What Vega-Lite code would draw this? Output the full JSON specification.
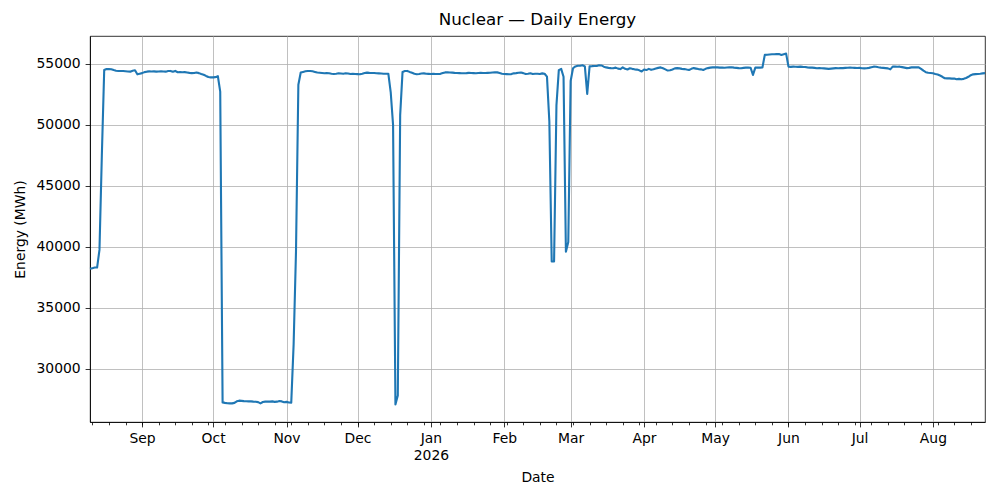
{
  "$schema": "https://vega.github.io/schema/vega-lite/v6.json",
  "width": 895,
  "height": 386,
  "autosize": {"type": "none"},
  "padding": {"left": 90, "top": 36, "right": 15, "bottom": 78},
  "background": "white",
  "title": {
    "text": "Nuclear — Daily Energy",
    "fontSize": 16.7,
    "fontWeight": "normal",
    "color": "black",
    "anchor": "middle",
    "offset": 7
  },
  "data": {
    "values": [
      {"date": "2025-08-10", "energy": 38200}, {"date": "2025-08-11", "energy": 38250}, {"date": "2025-08-12", "energy": 38300},
      {"date": "2025-08-13", "energy": 38300}, {"date": "2025-08-14", "energy": 39750}, {"date": "2025-08-15", "energy": 47500},
      {"date": "2025-08-16", "energy": 54510}, {"date": "2025-08-17", "energy": 54590}, {"date": "2025-08-18", "energy": 54580},
      {"date": "2025-08-19", "energy": 54570}, {"date": "2025-08-20", "energy": 54500}, {"date": "2025-08-21", "energy": 54450},
      {"date": "2025-08-22", "energy": 54430}, {"date": "2025-08-23", "energy": 54430}, {"date": "2025-08-24", "energy": 54420},
      {"date": "2025-08-25", "energy": 54400}, {"date": "2025-08-26", "energy": 54380}, {"date": "2025-08-27", "energy": 54370},
      {"date": "2025-08-28", "energy": 54450}, {"date": "2025-08-29", "energy": 54480}, {"date": "2025-08-30", "energy": 54150},
      {"date": "2025-08-31", "energy": 54200},
      {"date": "2025-09-01", "energy": 54250}, {"date": "2025-09-02", "energy": 54330}, {"date": "2025-09-03", "energy": 54370},
      {"date": "2025-09-04", "energy": 54390}, {"date": "2025-09-05", "energy": 54380}, {"date": "2025-09-06", "energy": 54390},
      {"date": "2025-09-07", "energy": 54370}, {"date": "2025-09-08", "energy": 54380}, {"date": "2025-09-09", "energy": 54400},
      {"date": "2025-09-10", "energy": 54380}, {"date": "2025-09-11", "energy": 54370}, {"date": "2025-09-12", "energy": 54420},
      {"date": "2025-09-13", "energy": 54430}, {"date": "2025-09-14", "energy": 54360}, {"date": "2025-09-15", "energy": 54430},
      {"date": "2025-09-16", "energy": 54320}, {"date": "2025-09-17", "energy": 54330}, {"date": "2025-09-18", "energy": 54320},
      {"date": "2025-09-19", "energy": 54330}, {"date": "2025-09-20", "energy": 54300}, {"date": "2025-09-21", "energy": 54270},
      {"date": "2025-09-22", "energy": 54250}, {"date": "2025-09-23", "energy": 54260}, {"date": "2025-09-24", "energy": 54300},
      {"date": "2025-09-25", "energy": 54250}, {"date": "2025-09-26", "energy": 54180}, {"date": "2025-09-27", "energy": 54120},
      {"date": "2025-09-28", "energy": 54020}, {"date": "2025-09-29", "energy": 53930}, {"date": "2025-09-30", "energy": 53900},
      {"date": "2025-10-01", "energy": 53900}, {"date": "2025-10-02", "energy": 53920}, {"date": "2025-10-03", "energy": 54000},
      {"date": "2025-10-04", "energy": 52730}, {"date": "2025-10-05", "energy": 27240}, {"date": "2025-10-06", "energy": 27200},
      {"date": "2025-10-07", "energy": 27170}, {"date": "2025-10-08", "energy": 27160}, {"date": "2025-10-09", "energy": 27160},
      {"date": "2025-10-10", "energy": 27200}, {"date": "2025-10-11", "energy": 27330}, {"date": "2025-10-12", "energy": 27380},
      {"date": "2025-10-13", "energy": 27360}, {"date": "2025-10-14", "energy": 27340}, {"date": "2025-10-15", "energy": 27330},
      {"date": "2025-10-16", "energy": 27320}, {"date": "2025-10-17", "energy": 27320}, {"date": "2025-10-18", "energy": 27300},
      {"date": "2025-10-19", "energy": 27290}, {"date": "2025-10-20", "energy": 27260}, {"date": "2025-10-21", "energy": 27160},
      {"date": "2025-10-22", "energy": 27270}, {"date": "2025-10-23", "energy": 27300}, {"date": "2025-10-24", "energy": 27310},
      {"date": "2025-10-25", "energy": 27300}, {"date": "2025-10-26", "energy": 27320}, {"date": "2025-10-27", "energy": 27280},
      {"date": "2025-10-28", "energy": 27300}, {"date": "2025-10-29", "energy": 27350}, {"date": "2025-10-30", "energy": 27320},
      {"date": "2025-10-31", "energy": 27250},
      {"date": "2025-11-01", "energy": 27280}, {"date": "2025-11-02", "energy": 27230}, {"date": "2025-11-03", "energy": 27220},
      {"date": "2025-11-04", "energy": 32000}, {"date": "2025-11-05", "energy": 39600}, {"date": "2025-11-06", "energy": 53300},
      {"date": "2025-11-07", "energy": 54300}, {"date": "2025-11-08", "energy": 54350}, {"date": "2025-11-09", "energy": 54400},
      {"date": "2025-11-10", "energy": 54430}, {"date": "2025-11-11", "energy": 54430}, {"date": "2025-11-12", "energy": 54400},
      {"date": "2025-11-13", "energy": 54350}, {"date": "2025-11-14", "energy": 54300}, {"date": "2025-11-15", "energy": 54280},
      {"date": "2025-11-16", "energy": 54260}, {"date": "2025-11-17", "energy": 54240}, {"date": "2025-11-18", "energy": 54250},
      {"date": "2025-11-19", "energy": 54240}, {"date": "2025-11-20", "energy": 54200}, {"date": "2025-11-21", "energy": 54180},
      {"date": "2025-11-22", "energy": 54200}, {"date": "2025-11-23", "energy": 54240}, {"date": "2025-11-24", "energy": 54220},
      {"date": "2025-11-25", "energy": 54200}, {"date": "2025-11-26", "energy": 54240}, {"date": "2025-11-27", "energy": 54220},
      {"date": "2025-11-28", "energy": 54180}, {"date": "2025-11-29", "energy": 54200}, {"date": "2025-11-30", "energy": 54180},
      {"date": "2025-12-01", "energy": 54170}, {"date": "2025-12-02", "energy": 54160}, {"date": "2025-12-03", "energy": 54200},
      {"date": "2025-12-04", "energy": 54260}, {"date": "2025-12-05", "energy": 54290}, {"date": "2025-12-06", "energy": 54270},
      {"date": "2025-12-07", "energy": 54260}, {"date": "2025-12-08", "energy": 54260}, {"date": "2025-12-09", "energy": 54240},
      {"date": "2025-12-10", "energy": 54230}, {"date": "2025-12-11", "energy": 54220}, {"date": "2025-12-12", "energy": 54200},
      {"date": "2025-12-13", "energy": 54200}, {"date": "2025-12-14", "energy": 54200}, {"date": "2025-12-15", "energy": 52700},
      {"date": "2025-12-16", "energy": 50000}, {"date": "2025-12-17", "energy": 27060}, {"date": "2025-12-18", "energy": 27800},
      {"date": "2025-12-19", "energy": 50800}, {"date": "2025-12-20", "energy": 54350}, {"date": "2025-12-21", "energy": 54420},
      {"date": "2025-12-22", "energy": 54430}, {"date": "2025-12-23", "energy": 54350}, {"date": "2025-12-24", "energy": 54280},
      {"date": "2025-12-25", "energy": 54200}, {"date": "2025-12-26", "energy": 54160}, {"date": "2025-12-27", "energy": 54180},
      {"date": "2025-12-28", "energy": 54220}, {"date": "2025-12-29", "energy": 54230}, {"date": "2025-12-30", "energy": 54200},
      {"date": "2025-12-31", "energy": 54190},
      {"date": "2026-01-01", "energy": 54180}, {"date": "2026-01-02", "energy": 54190}, {"date": "2026-01-03", "energy": 54180},
      {"date": "2026-01-04", "energy": 54180}, {"date": "2026-01-05", "energy": 54190}, {"date": "2026-01-06", "energy": 54250},
      {"date": "2026-01-07", "energy": 54310}, {"date": "2026-01-08", "energy": 54320}, {"date": "2026-01-09", "energy": 54300},
      {"date": "2026-01-10", "energy": 54290}, {"date": "2026-01-11", "energy": 54270}, {"date": "2026-01-12", "energy": 54260},
      {"date": "2026-01-13", "energy": 54250}, {"date": "2026-01-14", "energy": 54240}, {"date": "2026-01-15", "energy": 54240},
      {"date": "2026-01-16", "energy": 54250}, {"date": "2026-01-17", "energy": 54270}, {"date": "2026-01-18", "energy": 54260},
      {"date": "2026-01-19", "energy": 54250}, {"date": "2026-01-20", "energy": 54240}, {"date": "2026-01-21", "energy": 54260},
      {"date": "2026-01-22", "energy": 54270}, {"date": "2026-01-23", "energy": 54260}, {"date": "2026-01-24", "energy": 54260},
      {"date": "2026-01-25", "energy": 54270}, {"date": "2026-01-26", "energy": 54280}, {"date": "2026-01-27", "energy": 54300},
      {"date": "2026-01-28", "energy": 54320}, {"date": "2026-01-29", "energy": 54310}, {"date": "2026-01-30", "energy": 54260},
      {"date": "2026-01-31", "energy": 54200},
      {"date": "2026-02-01", "energy": 54180}, {"date": "2026-02-02", "energy": 54170}, {"date": "2026-02-03", "energy": 54160},
      {"date": "2026-02-04", "energy": 54170}, {"date": "2026-02-05", "energy": 54230}, {"date": "2026-02-06", "energy": 54250},
      {"date": "2026-02-07", "energy": 54280}, {"date": "2026-02-08", "energy": 54300}, {"date": "2026-02-09", "energy": 54250},
      {"date": "2026-02-10", "energy": 54180}, {"date": "2026-02-11", "energy": 54200}, {"date": "2026-02-12", "energy": 54240},
      {"date": "2026-02-13", "energy": 54180}, {"date": "2026-02-14", "energy": 54200}, {"date": "2026-02-15", "energy": 54200},
      {"date": "2026-02-16", "energy": 54180}, {"date": "2026-02-17", "energy": 54230}, {"date": "2026-02-18", "energy": 54200},
      {"date": "2026-02-19", "energy": 53960}, {"date": "2026-02-20", "energy": 50300}, {"date": "2026-02-21", "energy": 38800},
      {"date": "2026-02-22", "energy": 38800}, {"date": "2026-02-23", "energy": 51600}, {"date": "2026-02-24", "energy": 54500},
      {"date": "2026-02-25", "energy": 54600}, {"date": "2026-02-26", "energy": 53950}, {"date": "2026-02-27", "energy": 39600},
      {"date": "2026-02-28", "energy": 40400},
      {"date": "2026-03-01", "energy": 53600}, {"date": "2026-03-02", "energy": 54650}, {"date": "2026-03-03", "energy": 54800},
      {"date": "2026-03-04", "energy": 54850}, {"date": "2026-03-05", "energy": 54850}, {"date": "2026-03-06", "energy": 54900},
      {"date": "2026-03-07", "energy": 54800}, {"date": "2026-03-08", "energy": 52550}, {"date": "2026-03-09", "energy": 54800},
      {"date": "2026-03-10", "energy": 54820}, {"date": "2026-03-11", "energy": 54830}, {"date": "2026-03-12", "energy": 54830},
      {"date": "2026-03-13", "energy": 54900}, {"date": "2026-03-14", "energy": 54880}, {"date": "2026-03-15", "energy": 54780},
      {"date": "2026-03-16", "energy": 54720}, {"date": "2026-03-17", "energy": 54680}, {"date": "2026-03-18", "energy": 54660},
      {"date": "2026-03-19", "energy": 54650}, {"date": "2026-03-20", "energy": 54700}, {"date": "2026-03-21", "energy": 54620},
      {"date": "2026-03-22", "energy": 54580}, {"date": "2026-03-23", "energy": 54720}, {"date": "2026-03-24", "energy": 54600},
      {"date": "2026-03-25", "energy": 54550}, {"date": "2026-03-26", "energy": 54650}, {"date": "2026-03-27", "energy": 54600},
      {"date": "2026-03-28", "energy": 54560}, {"date": "2026-03-29", "energy": 54540}, {"date": "2026-03-30", "energy": 54480},
      {"date": "2026-03-31", "energy": 54380},
      {"date": "2026-04-01", "energy": 54550}, {"date": "2026-04-02", "energy": 54500}, {"date": "2026-04-03", "energy": 54600},
      {"date": "2026-04-04", "energy": 54520}, {"date": "2026-04-05", "energy": 54560}, {"date": "2026-04-06", "energy": 54620},
      {"date": "2026-04-07", "energy": 54680}, {"date": "2026-04-08", "energy": 54720}, {"date": "2026-04-09", "energy": 54650},
      {"date": "2026-04-10", "energy": 54560}, {"date": "2026-04-11", "energy": 54460}, {"date": "2026-04-12", "energy": 54480},
      {"date": "2026-04-13", "energy": 54550}, {"date": "2026-04-14", "energy": 54640}, {"date": "2026-04-15", "energy": 54660},
      {"date": "2026-04-16", "energy": 54640}, {"date": "2026-04-17", "energy": 54600}, {"date": "2026-04-18", "energy": 54580},
      {"date": "2026-04-19", "energy": 54540}, {"date": "2026-04-20", "energy": 54510}, {"date": "2026-04-21", "energy": 54600},
      {"date": "2026-04-22", "energy": 54660}, {"date": "2026-04-23", "energy": 54620}, {"date": "2026-04-24", "energy": 54580},
      {"date": "2026-04-25", "energy": 54560}, {"date": "2026-04-26", "energy": 54510}, {"date": "2026-04-27", "energy": 54600},
      {"date": "2026-04-28", "energy": 54660}, {"date": "2026-04-29", "energy": 54700}, {"date": "2026-04-30", "energy": 54720},
      {"date": "2026-05-01", "energy": 54730}, {"date": "2026-05-02", "energy": 54720}, {"date": "2026-05-03", "energy": 54700},
      {"date": "2026-05-04", "energy": 54700}, {"date": "2026-05-05", "energy": 54690}, {"date": "2026-05-06", "energy": 54710},
      {"date": "2026-05-07", "energy": 54720}, {"date": "2026-05-08", "energy": 54730}, {"date": "2026-05-09", "energy": 54700},
      {"date": "2026-05-10", "energy": 54680}, {"date": "2026-05-11", "energy": 54660}, {"date": "2026-05-12", "energy": 54650},
      {"date": "2026-05-13", "energy": 54680}, {"date": "2026-05-14", "energy": 54700}, {"date": "2026-05-15", "energy": 54700},
      {"date": "2026-05-16", "energy": 54690}, {"date": "2026-05-17", "energy": 54100}, {"date": "2026-05-18", "energy": 54700},
      {"date": "2026-05-19", "energy": 54700}, {"date": "2026-05-20", "energy": 54700}, {"date": "2026-05-21", "energy": 54710},
      {"date": "2026-05-22", "energy": 55750}, {"date": "2026-05-23", "energy": 55760}, {"date": "2026-05-24", "energy": 55780},
      {"date": "2026-05-25", "energy": 55800}, {"date": "2026-05-26", "energy": 55800}, {"date": "2026-05-27", "energy": 55820},
      {"date": "2026-05-28", "energy": 55810}, {"date": "2026-05-29", "energy": 55740}, {"date": "2026-05-30", "energy": 55800},
      {"date": "2026-05-31", "energy": 55850},
      {"date": "2026-06-01", "energy": 54780}, {"date": "2026-06-02", "energy": 54760}, {"date": "2026-06-03", "energy": 54780},
      {"date": "2026-06-04", "energy": 54770}, {"date": "2026-06-05", "energy": 54760}, {"date": "2026-06-06", "energy": 54780},
      {"date": "2026-06-07", "energy": 54760}, {"date": "2026-06-08", "energy": 54750}, {"date": "2026-06-09", "energy": 54720},
      {"date": "2026-06-10", "energy": 54700}, {"date": "2026-06-11", "energy": 54700}, {"date": "2026-06-12", "energy": 54680},
      {"date": "2026-06-13", "energy": 54650}, {"date": "2026-06-14", "energy": 54660}, {"date": "2026-06-15", "energy": 54650},
      {"date": "2026-06-16", "energy": 54640}, {"date": "2026-06-17", "energy": 54620}, {"date": "2026-06-18", "energy": 54600},
      {"date": "2026-06-19", "energy": 54620}, {"date": "2026-06-20", "energy": 54640}, {"date": "2026-06-21", "energy": 54660},
      {"date": "2026-06-22", "energy": 54650}, {"date": "2026-06-23", "energy": 54660}, {"date": "2026-06-24", "energy": 54660},
      {"date": "2026-06-25", "energy": 54680}, {"date": "2026-06-26", "energy": 54690}, {"date": "2026-06-27", "energy": 54700},
      {"date": "2026-06-28", "energy": 54690}, {"date": "2026-06-29", "energy": 54680}, {"date": "2026-06-30", "energy": 54670},
      {"date": "2026-07-01", "energy": 54680}, {"date": "2026-07-02", "energy": 54650}, {"date": "2026-07-03", "energy": 54640},
      {"date": "2026-07-04", "energy": 54650}, {"date": "2026-07-05", "energy": 54680}, {"date": "2026-07-06", "energy": 54730},
      {"date": "2026-07-07", "energy": 54780}, {"date": "2026-07-08", "energy": 54770}, {"date": "2026-07-09", "energy": 54730},
      {"date": "2026-07-10", "energy": 54700}, {"date": "2026-07-11", "energy": 54680}, {"date": "2026-07-12", "energy": 54660},
      {"date": "2026-07-13", "energy": 54640}, {"date": "2026-07-14", "energy": 54560}, {"date": "2026-07-15", "energy": 54780},
      {"date": "2026-07-16", "energy": 54780}, {"date": "2026-07-17", "energy": 54770}, {"date": "2026-07-18", "energy": 54780},
      {"date": "2026-07-19", "energy": 54740}, {"date": "2026-07-20", "energy": 54700}, {"date": "2026-07-21", "energy": 54660},
      {"date": "2026-07-22", "energy": 54680}, {"date": "2026-07-23", "energy": 54720}, {"date": "2026-07-24", "energy": 54730},
      {"date": "2026-07-25", "energy": 54720}, {"date": "2026-07-26", "energy": 54730}, {"date": "2026-07-27", "energy": 54600},
      {"date": "2026-07-28", "energy": 54450}, {"date": "2026-07-29", "energy": 54330}, {"date": "2026-07-30", "energy": 54280},
      {"date": "2026-07-31", "energy": 54260},
      {"date": "2026-08-01", "energy": 54240}, {"date": "2026-08-02", "energy": 54180}, {"date": "2026-08-03", "energy": 54130},
      {"date": "2026-08-04", "energy": 54050}, {"date": "2026-08-05", "energy": 53950}, {"date": "2026-08-06", "energy": 53830},
      {"date": "2026-08-07", "energy": 53820}, {"date": "2026-08-08", "energy": 53820}, {"date": "2026-08-09", "energy": 53800},
      {"date": "2026-08-10", "energy": 53810}, {"date": "2026-08-11", "energy": 53750}, {"date": "2026-08-12", "energy": 53780},
      {"date": "2026-08-13", "energy": 53740}, {"date": "2026-08-14", "energy": 53780}, {"date": "2026-08-15", "energy": 53850},
      {"date": "2026-08-16", "energy": 53950}, {"date": "2026-08-17", "energy": 54080}, {"date": "2026-08-18", "energy": 54150},
      {"date": "2026-08-19", "energy": 54170}, {"date": "2026-08-20", "energy": 54180}, {"date": "2026-08-21", "energy": 54200},
      {"date": "2026-08-22", "energy": 54230}, {"date": "2026-08-23", "energy": 54250}
    ]
  },
  "encoding": {
    "y": {
      "field": "energy",
      "type": "quantitative",
      "scale": {"domain": [25630, 57295], "nice": false, "zero": false},
      "axis": {
        "values": [30000, 35000, 40000, 45000, 50000, 55000],
        "format": "d",
        "title": "Energy (MWh)",
        "titlePadding": 9
      }
    }
  },
  "layer": [
    {
      "mark": {"type": "line", "color": "#1f77b4", "strokeWidth": 2.1, "strokeJoin": "round"},
      "encoding": {
        "x": {
          "field": "date",
          "type": "temporal",
          "scale": {"type": "utc", "nice": false, "padding": 0},
          "axis": {
            "orient": "bottom",
            "tickCount": {"interval": "month", "step": 1},
            "labelExpr": "utcmonth(datum.value) == 0 ? [utcFormat(datum.value, '%b'), utcFormat(datum.value, '%Y')] : utcFormat(datum.value, '%b')",
            "labelLineHeight": 17,
            "title": "Date",
            "titlePadding": 8
          }
        }
      }
    },
    {
      "mark": {"type": "line", "opacity": 0},
      "encoding": {
        "x": {
          "field": "date",
          "type": "temporal",
          "scale": {"type": "utc", "nice": false, "padding": 0},
          "axis": {
            "orient": "bottom",
            "values": {"expr": "sequence(utc(2025, 7, 11), utc(2026, 7, 24), 604800000)"},
            "labels": false,
            "domain": false,
            "grid": false,
            "tickSize": 2.8,
            "title": null
          }
        }
      }
    }
  ],
  "resolve": {"axis": {"x": "independent"}},
  "config": {
    "font": "DejaVu Sans",
    "view": {"stroke": "black", "strokeWidth": 0.8},
    "axis": {
      "labelFont": "DejaVu Sans",
      "labelFontSize": 13.9,
      "labelColor": "black",
      "labelPadding": 4.9,
      "labelFlush": false,
      "labelOverlap": false,
      "titleFont": "DejaVu Sans",
      "titleFontSize": 13.9,
      "titleFontWeight": "normal",
      "titleColor": "black",
      "tickColor": "black",
      "tickSize": 4.9,
      "tickWidth": 0.8,
      "domainColor": "black",
      "domainWidth": 0.8,
      "grid": true,
      "gridColor": "#b0b0b0",
      "gridWidth": 0.8
    },
    "title": {"font": "DejaVu Sans"}
  }
}
